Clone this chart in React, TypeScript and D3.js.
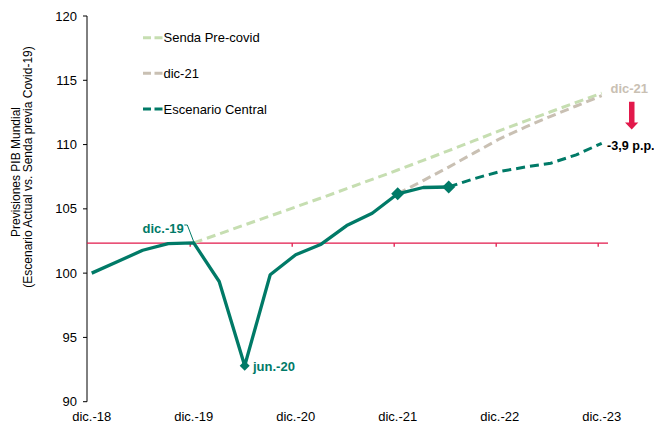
import React from "react";
import * as d3 from "d3";

const xLabels = ["dic.-18", "dic.-19", "dic.-20", "dic.-21", "dic.-22", "dic.-23"];
const yTicks = [90, 95, 100, 105, 110, 115, 120];
// quarterly index 0..14 (dic-18 .. jun-22), solid
const centralHist = [100.0, 100.88, 101.78, 102.3, 102.35, 99.35, 92.8, 99.87, 101.43, 102.25, 103.7, 104.66, 106.17, 106.66, 106.7];
// quarterly index 14..20, dashed forecast
const centralForecast = [106.7, 107.35, 107.9, 108.25, 108.55, 109.2, 110.1];
// quarterly index 12..20
const dic21 = [106.17, 107.2, 108.25, 109.35, 110.45, 111.35, 112.2, 113.0, 113.8];
// quarterly index 4..20
const preCovid = [102.35, 103.05, 103.75, 104.45, 105.15, 105.85, 106.57, 107.29, 108.02, 108.77, 109.53, 110.3, 111.08, 111.82, 112.55, 113.28, 114.0];
const referenceLevel = 102.33;
const legendItems = ["Senda Pre-covid", "dic-21", "Escenario Central"];

const C_CENTRAL = "#007a67";
const C_PRE = "#c6deb1";
const C_DIC21 = "#c9c0b3";
const C_RED = "#e2194b";
const FONT = "'Liberation Sans', Arial, sans-serif";

export default function App() {
  const x = d3.scaleLinear().domain([0, 20]).range([91.7, 601.7]);
  const y = d3.scaleLinear().domain([90, 120]).range([401.7, 16]);
  const line = d3.line<[number, number]>().x((d) => x(d[0])).y((d) => y(d[1]));

  const pts = (arr: number[], start: number) => arr.map((v, i) => [start + i, v] as [number, number]);
  const histPts = pts(centralHist, 0);
  const fcPts = pts(centralForecast, 14);
  const d21Pts = pts(dic21, 12);
  const prePts = pts(preCovid, 4);

  const diamond = (cx: number, cy: number, r: number) =>
    `M${cx},${cy - r}L${cx + r},${cy}L${cx},${cy + r}L${cx - r},${cy}Z`;

  const axisX = 87;
  const yRef = y(referenceLevel);
  const legendColors = [C_PRE, C_DIC21, C_CENTRAL];
  const legendY = [37.7, 73.3, 109];

  return (
    <svg width={654} height={424} style={{ position: "absolute", left: 0, top: 0, background: "#fff" }} fontFamily={FONT}>
      <rect x={0} y={0} width={654} height={424} fill="#fff" />
      {/* y axis */}
      <line x1={axisX} x2={axisX} y1={y(120)} y2={y(90)} stroke="#000" strokeWidth={1} />
      {yTicks.map((t) => (
        <g key={t}>
          <line x1={axisX - 4} x2={axisX} y1={y(t)} y2={y(t)} stroke="#000" strokeWidth={1} />
          <text x={77} y={y(t)} textAnchor="end" dominantBaseline="central" fontSize={13} fill="#000">
            {t}
          </text>
        </g>
      ))}
      {/* y axis title */}
      <text transform={`translate(15.5,172) rotate(-90)`} textAnchor="middle" fontSize={12} fill="#000" dominantBaseline="central">
        Previsiones PIB Mundial
      </text>
      <text transform={`translate(27.5,167) rotate(-90)`} textAnchor="middle" fontSize={12} fill="#000" dominantBaseline="central">
        (Escenario Actual vs. Senda previa Covid-19)
      </text>
      {/* x labels */}
      {xLabels.map((l, k) => (
        <text key={l} x={x(4 * k)} y={416} textAnchor="middle" dominantBaseline="central" fontSize={13} fill="#000">
          {l}
        </text>
      ))}
      {/* reference red line */}
      <line x1={axisX} x2={608} y1={yRef} y2={yRef} stroke={C_RED} strokeWidth={1.3} />
      {[1, 2, 3, 4, 5].map((k) => (
        <line key={k} x1={x(4 * k) - 3.5} x2={x(4 * k) - 3.5} y1={yRef} y2={yRef + 3.5} stroke={C_RED} strokeWidth={1.3} />
      ))}
      {/* series */}
      <path d={line(prePts) || ""} fill="none" stroke={C_PRE} strokeWidth={3} strokeDasharray="9,5" />
      <path d={line(d21Pts) || ""} fill="none" stroke={C_DIC21} strokeWidth={3} strokeDasharray="9,5" />
      <path d={line(histPts) || ""} fill="none" stroke={C_CENTRAL} strokeWidth={3.3} strokeLinejoin="round" />
      <path d={line(fcPts) || ""} fill="none" stroke={C_CENTRAL} strokeWidth={3} strokeDasharray="9,5" />
      <path d={diamond(x(6), y(centralHist[6]), 5)} fill={C_CENTRAL} />
      <path d={diamond(x(12), y(centralHist[12]), 6.5)} fill={C_CENTRAL} />
      <path d={diamond(x(14), y(centralHist[14]), 6.5)} fill={C_CENTRAL} />
      {/* annotations */}
      <text x={142.5} y={228} dominantBaseline="central" fontSize={13} fontWeight="bold" fill={C_CENTRAL}>
        dic.-19
      </text>
      <polyline
        points={`${184.3},${225} ${187.3},${225} ${x(4) + 0.5},${y(centralHist[4])}`}
        fill="none"
        stroke={C_CENTRAL}
        strokeWidth={1}
      />
      <text x={253} y={366} dominantBaseline="central" fontSize={13} fontWeight="bold" fill={C_CENTRAL}>
        jun.-20
      </text>
      <text x={610.5} y={88.5} dominantBaseline="central" fontSize={13} fontWeight="bold" fill={C_DIC21}>
        dic-21
      </text>
      <path d="M629,101.7 L634.5,101.7 L634.5,122.5 L638.3,122.5 L631.7,129.5 L625,122.5 L629,122.5 Z" fill={C_RED} />
      <text x={607} y={146} dominantBaseline="central" fontSize={12.6} fontWeight="bold" fill="#000">
        -3,9 p.p.
      </text>
      {/* legend */}
      {legendItems.map((l, i) => (
        <g key={l}>
          <line x1={143} x2={163} y1={legendY[i]} y2={legendY[i]} stroke={legendColors[i]} strokeWidth={3} strokeDasharray="8,3.5" />
          <text x={163.5} y={legendY[i]} dominantBaseline="central" fontSize={13} fill="#000">
            {l}
          </text>
        </g>
      ))}
    </svg>
  );
}
